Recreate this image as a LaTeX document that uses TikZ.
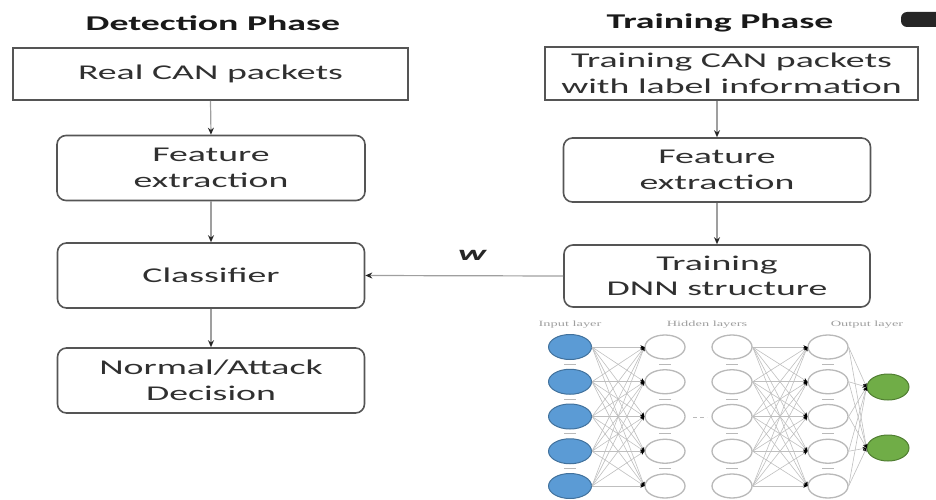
\documentclass[tikz,border=0pt]{standalone}
\usepackage{fontspec}
\setmainfont[FakeStretch=1.8]{Carlito}
\newfontfamily\lyrfont[FakeStretch=1.8]{Liberation Serif}
\usepackage{xcolor}
\usetikzlibrary{shapes.geometric, arrows.meta, positioning}
\definecolor{boxline}{HTML}{555555}
\definecolor{txt}{HTML}{303030}
\definecolor{inblue}{HTML}{5B9BD5}
\definecolor{inblueline}{HTML}{41719C}
\definecolor{outgreen}{HTML}{70AD47}
\definecolor{outgreenline}{HTML}{507E32}

\begin{document}
\begin{tikzpicture}[x=1pt, y=-1pt,
    box/.style={rectangle, draw=boxline, line width=1.6pt, align=center, text=txt, inner sep=0pt, font=\fontsize{21}{25.5}\selectfont},
    rbox/.style={box, rounded corners=9pt},
    phase/.style={font=\bfseries\fontsize{21}{25.5}\selectfont, text=black!90},
    arrow/.style={-{Stealth[length=7pt, width=6pt, color=black!85]}, draw=gray!75, line width=1.2pt},
    wlbl/.style={font=\bfseries\itshape\fontsize{21}{21}\selectfont, text=black!85, inner sep=0pt},
    inp/.style={ellipse, draw=inblueline, fill=inblue, line width=1pt, minimum width=43pt, minimum height=25pt, inner sep=0pt},
    hid/.style={ellipse, draw=gray!55, fill=white, line width=1.3pt, minimum width=40pt, minimum height=24pt, inner sep=0pt},
    outn/.style={ellipse, draw=outgreenline, fill=outgreen, line width=1pt, minimum width=42pt, minimum height=26pt, inner sep=0pt},
    nnedge/.style={draw=gray!50, line width=0.6pt, -{Stealth[length=4pt, width=3.5pt, color=black]}},
    nnsep/.style={draw=gray!55, line width=1pt},
    lyr/.style={font=\lyrfont\fontsize{8}{8}\selectfont, text=gray!75}
]
\useasboundingbox (0,0) rectangle (936,500);

%% ── Phase titles ─────────────────────────────────────────────────────
\node[phase] (dettitle) at (213,23) {Detection Phase};
\node[phase] (trntitle) at (720,23) {Training Phase};

%% ── Detection column (x = 211) ───────────────────────────────────────
\node[box,  minimum width=395pt, minimum height=52pt] (real)  at (210.5,74)  {Real CAN packets};
\node[rbox, minimum width=308pt, minimum height=65pt] (featl) at (211,168)   {Feature\\extraction};
\node[rbox, minimum width=307pt, minimum height=65pt] (clsf)  at (211,275.5) {Classifier};
\node[rbox, minimum width=307pt, minimum height=65pt] (dec)   at (211,380.5) {Normal/Attack\\Decision};

%% ── Training column (x = 717) ────────────────────────────────────────
\node[box,  minimum width=373pt, minimum height=53pt] (train) at (731.5,73.5) {Training CAN packets\\with label information};
\node[rbox, minimum width=307pt, minimum height=64pt] (featr) at (717,170)    {Feature\\extraction};
\node[rbox, minimum width=306pt, minimum height=62pt] (dnn)   at (717,276)    {Training\\DNN structure};

%% ── Arrows ───────────────────────────────────────────────────────────
\draw[arrow] (real.south) -- (featl.north);
\draw[arrow] (featl.south) -- (clsf.north);
\draw[arrow] (clsf.south) -- (dec.north);

\draw[arrow] (featr.north |- train.south) -- (featr.north);
\draw[arrow] (featr.south) -- (dnn.north);

%% DNN weights -> classifier
\draw[arrow] (dnn.west) -- node[wlbl, above=15pt, pos=0.46]{w} (clsf.east);

%% ── Neural network sketch ────────────────────────────────────────────
\node[lyr] (inlbl)  at (570,325) {Input layer};
\node[lyr] (hidlbl) at (707,325) {Hidden layers};
\node[lyr] (outlbl) at (867,325) {Output layer};

\foreach \i [evaluate=\i as \yy using 347+34.75*(\i-1)] in {1,...,5} {
  \node[inp] (in\i) at (570,\yy) {};
  \node[hid] (ha\i) at (665,\yy) {};
  \node[hid] (hb\i) at (732,\yy) {};
  \node[hid] (ol\i) at (828,\yy) {};
}
\node[outn] (g1) at (888,387) {};
\node[outn] (g2) at (888,448) {};

\foreach \i in {1,...,5}
  \foreach \j in {1,...,5} {
    \draw[nnedge] (in\i.east) -- (ha\j.west);
    \draw[nnedge] (hb\i.east) -- (ol\j.west);
  }
\foreach \i in {1,...,5}
  \foreach \j in {1,2}
    \draw[nnedge] (ol\i.east) -- (g\j.west);

%% small separators between the neurons
\foreach \x in {570,665,732,828}
  \foreach \i in {1,...,4}
    \draw[nnsep] ({\x-6},{364.4+34.75*(\i-1)}) -- ({\x+6},{364.4+34.75*(\i-1)});
\draw[nnsep, dash pattern=on 4pt off 3pt] (693,417) -- (707,417);

%% cut-off mark in the top right corner
\fill[black!85, rounded corners=6pt] (901,12) rectangle (950,27);

\end{tikzpicture}
\end{document}
